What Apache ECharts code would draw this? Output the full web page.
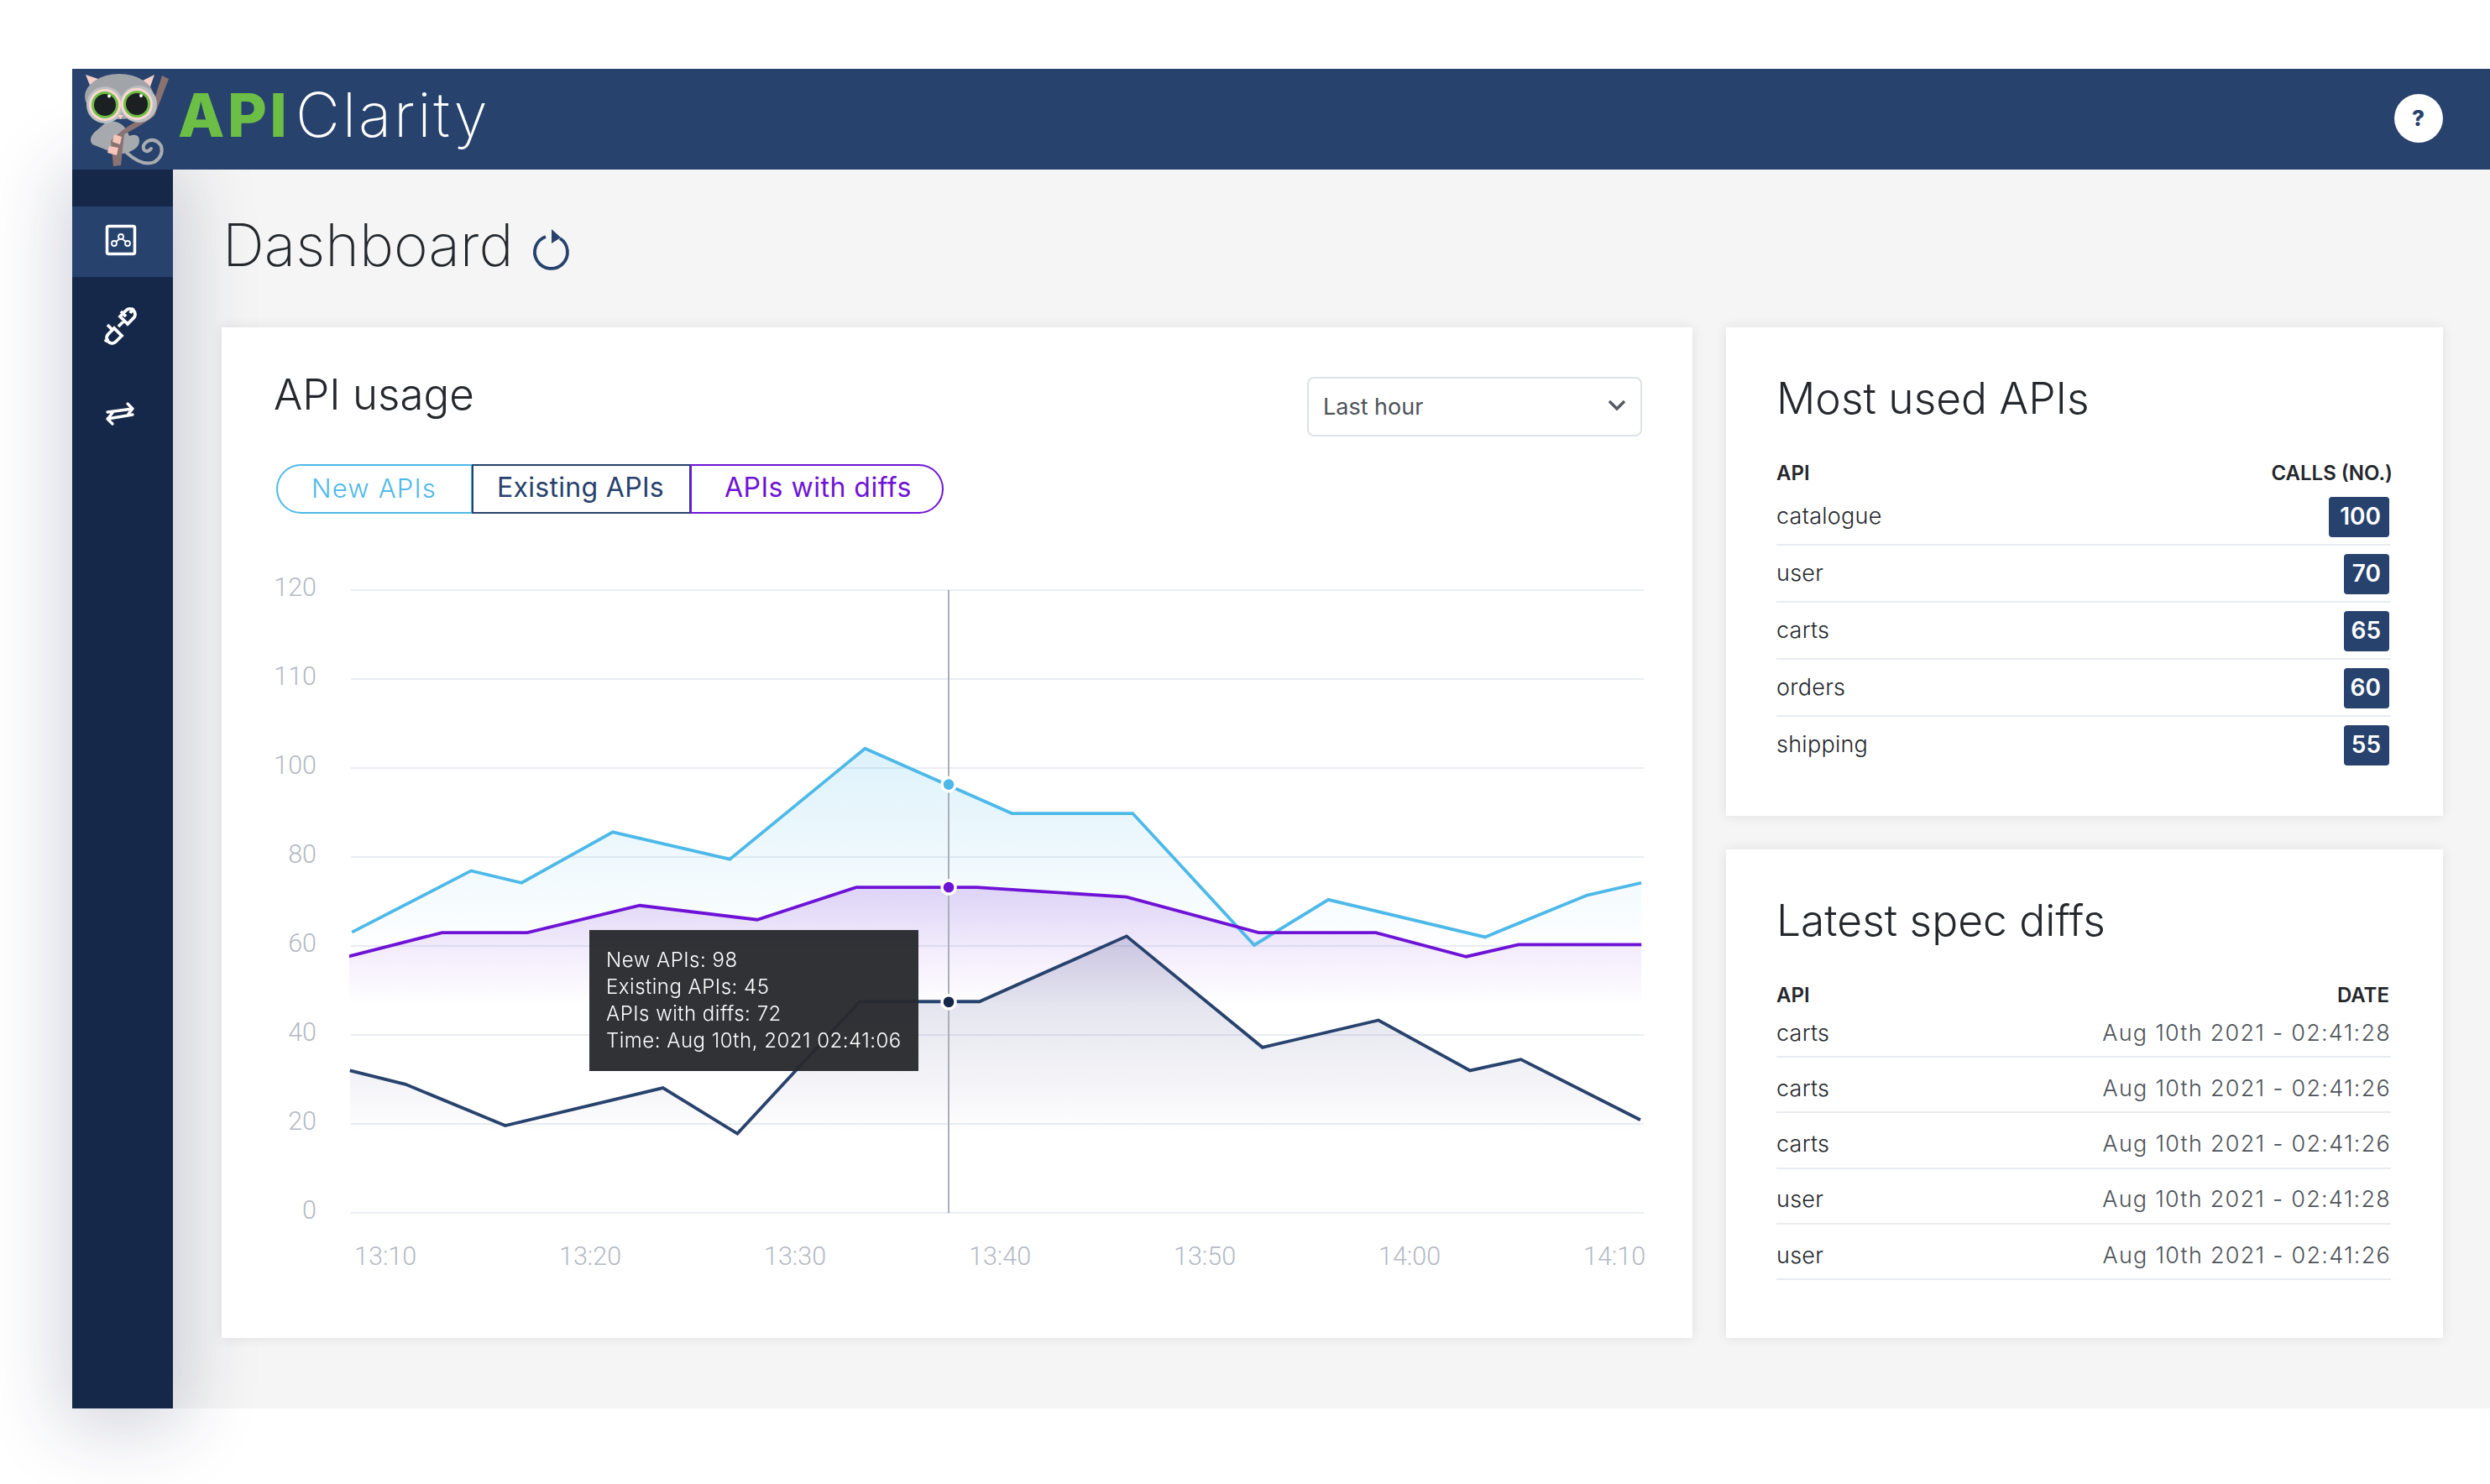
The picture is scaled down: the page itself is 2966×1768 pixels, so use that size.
<!DOCTYPE html>
<html><head><meta charset="utf-8"><title>APIClarity Dashboard</title>
<style>
html,body{margin:0;padding:0;background:#fff;width:2966px;height:1768px;overflow:hidden;font-family:Inter,"Noto Sans",sans-serif}
.box{position:absolute;box-sizing:border-box}
.t{position:absolute;white-space:nowrap;line-height:1}
#chart{position:absolute;left:264px;top:390px;width:1752px;height:1204px}
</style>
<script src="https://cdn.jsdelivr.net/npm/echarts@6/dist/echarts.min.js"></script>
</head><body>
<div class="box" style="left:86px;top:82px;width:2880px;height:1596px;background:#f5f5f5"></div>
<div class="box" style="left:86px;top:202px;width:120px;height:1476px;background:#152849;box-shadow:0 10px 90px 10px rgba(35,40,90,.22)"></div>
<div class="box" style="left:86px;top:246px;width:120px;height:84px;background:#27426d"></div>
<div class="box" style="left:86px;top:82px;width:2880px;height:120px;background:#27426d"></div>
<div class="box" style="left:264px;top:390px;width:1752px;height:1204px;background:#fff;box-shadow:0 0 14px rgba(0,0,0,.09)"></div>
<div class="box" style="left:2056px;top:390px;width:854px;height:582px;background:#fff;box-shadow:0 0 14px rgba(0,0,0,.09)"></div>
<div class="box" style="left:2056px;top:1012px;width:854px;height:582px;background:#fff;box-shadow:0 0 14px rgba(0,0,0,.09)"></div>

<!-- logo -->
<svg class="box" style="left:86px;top:80px" width="130" height="125" viewBox="0 0 130 125">
 <path d="M65 102Q84 119 98 113Q109 106 106 94Q100 84 90 88Q82 93 86 99Q90 102 94 97" fill="none" stroke="#a9acb0" stroke-width="4" stroke-linecap="round"/>
 <path d="M40 66Q60 60 68 82Q80 78 80 88Q80 97 65 102Q50 106 44 100L24 92Q19 86 26 78Z" fill="#a6a9ad"/>
 <path d="M107 10L115 14L98 58Q85 68 62 80L58 117L49 118L46 88Q62 70 92 57Z" fill="#8a7270"/>
 <path d="M50 80l9 3-2 9-9-3zM44 94l11 2-2 9-11-3z" fill="#f6c6bb"/>
 <path d="M16 9L31 14L22 24Z M98 9L84 16L92 26Z" fill="#f9cfca"/>
 <ellipse cx="56" cy="35" rx="41" ry="27" fill="#a1a4a8"/>
 <circle cx="39" cy="45" r="22" fill="#bdbfc2"/><circle cx="79" cy="44" r="22" fill="#bdbfc2"/>
 <circle cx="39" cy="45" r="19" fill="#fbd8cf"/><circle cx="77" cy="44" r="19" fill="#fbd8cf"/>
 <circle cx="39" cy="45" r="16" fill="#6cbe45"/><circle cx="77" cy="44" r="16" fill="#6cbe45"/>
 <circle cx="39" cy="45" r="13" fill="#1d2023"/><circle cx="77" cy="44" r="13" fill="#1d2023"/>
 <circle cx="44" cy="34.500" r="2" fill="#fff"/><circle cx="82" cy="34" r="2" fill="#fff"/>
 <path d="M54 57L61 57L57.500 62Z" fill="#f9cfca"/>
</svg>

<!-- side icons -->
<svg class="box" style="left:86px;top:246px" width="120" height="300" viewBox="0 0 120 300" fill="none" stroke="#fff">
 <rect x="41.500" y="23.500" width="33" height="33" rx="2" stroke-width="3.500"/>
 <g stroke-width="1.800"><circle cx="58" cy="36" r="3"/><circle cx="50" cy="44" r="3"/><circle cx="66" cy="44" r="3"/><path d="M56 39L52 42M60 39L64 42"/></g>
 <g stroke-width="3.800"><path d="M42 141l6 6M58 125l6 6M43 152l7-7 9 9-7 7a6 6 0 0 1-9 0a6 6 0 0 1 0-9zM57 131l7-7a6 6 0 0 1 9 0a6 6 0 0 1 0 9l-7 7zM55 143l6-6M39 161l4-4M69 127l4-6"/></g>
 <g stroke-width="3.300" stroke-linecap="round" stroke-linejoin="round"><path d="M42 245l30-4M66 235l6 6-5 6M72 248l-30 5M48 246l-6 7 6 6"/></g>
</svg>
<!-- refresh -->
<svg class="box" style="left:630px;top:266px" width="54" height="60" viewBox="0 0 54 60" fill="none">
 <path d="M20 16A19.500 19.500 0 1 0 37 18" stroke="#27426d" stroke-width="3.800"/>
 <path d="M27 7L38 17L27 24Z" fill="#27426d"/>
</svg>
<!-- help -->
<div class="box" style="left:2852px;top:112px;width:58px;height:58px;border-radius:50%;background:#fff"></div>
<!-- tabs -->
<div class="box" style="left:329px;top:553px;width:234px;height:59px;border:2px solid #4db9e8;border-radius:30px 0 0 30px;background:#fff"></div>
<div class="box" style="left:562px;top:553px;width:261px;height:59px;border:2px solid #27426d;background:#fff"></div>
<div class="box" style="left:822px;top:553px;width:302px;height:59px;border:2px solid #6e13d6;border-radius:0 30px 30px 0;background:#fff"></div>
<!-- select -->
<div class="box" style="left:1557px;top:449px;width:399px;height:71px;border:2px solid #dee2e6;border-radius:8px;background:#fff"></div>
<svg class="box" style="left:1914px;top:474px" width="24" height="18" viewBox="0 0 24 18"><path d="M3 4L12 13L21 4" fill="none" stroke="#555b63" stroke-width="3.500"/></svg>

<div id="shell"></div>
<div id="chart"></div>

<script>
// ---- chart data ----
const yTickLabels = [0, 20, 40, 60, 80, 100, 110, 120];
const xTickTimes = ['13:10:00','13:20:00','13:30:00','13:40:00','13:50:00','14:00:00','14:10:00'];
const newTimes = ['13:08:22','13:14:11','13:16:39','13:21:06','13:26:49','13:33:25','13:40:35','13:46:29','13:52:25','13:56:02','14:03:41','14:08:40','14:11:19'];
const newValues = [63.1,76.9,74.2,85.6,79.5,102.2,89.8,89.8,60.2,70.4,62,71.4,74.2];
const diffTimes = ['13:08:10','13:12:46','13:16:56','13:22:25','13:28:09','13:33:00','13:38:51','13:46:11','13:52:38','13:58:21','14:02:46','14:05:19','14:11:19'];
const diffValues = [57.6,63,63,69.1,65.9,73.2,73.2,71,63,63,57.6,60.3,60.3];
const existingTimes = ['13:08:16','13:10:59','13:15:51','13:23:33','13:27:11','13:33:09','13:39:00','13:46:11','13:52:49','13:58:29','14:02:57','14:05:26','14:11:16'];
const existingValues = [32,28.9,19.6,28.1,17.8,47.5,47.5,62.2,37.2,43.3,32,34.5,20.9];
const cursorTime = '13:37:30';
const cursorValues = [96.3,73.2,47.4];
const tooltipLines = ['New APIs: 98','Existing APIs: 45','APIs with diffs: 72','Time: Aug 10th, 2021 02:41:06'];
const axisStart = '13:08:19', axisEnd = '14:11:26';

// ---- tables ----
const usedApis = ['catalogue','user','carts','orders','shipping'];
const usedCalls = [100,70,65,60,55];
const diffApis = ['carts','carts','carts','user','user'];
const diffDates = ['Aug 10th 2021 - 02:41:28','Aug 10th 2021 - 02:41:26','Aug 10th 2021 - 02:41:26','Aug 10th 2021 - 02:41:28','Aug 10th 2021 - 02:41:26'];
const tabs = ['New APIs','Existing APIs','APIs with diffs'];

// ---- page shell ----
const shell = document.getElementById('shell');
function txt(s,x,base,size,o={}){
  const d=document.createElement('div');d.className='t';d.textContent=s;
  d.style.cssText+=`font-size:${size}px;top:${base-.8635*size}px;color:${o.color||'#24272c'};font-weight:${o.weight||400};`+
   (o.right?`right:${2966-x}px;`:`left:${x}px;`)+(o.ls?`letter-spacing:${o.ls}px;`:'')+(o.family?`font-family:${o.family};`:'');
  shell.appendChild(d);return d;
}
function box(x,y,w,h,c,r){const d=document.createElement('div');d.className='box';
  d.style.cssText+=`left:${x}px;top:${y}px;width:${w}px;height:${h}px;background:${c};border-radius:${r||0}px`;shell.appendChild(d);}

txt('API',212,163,72,{weight:800,color:'#6cbe45',ls:3.500});
txt('Clarity',352,163,73,{weight:200,color:'#fff',ls:2.800});
txt('?',2873,150,26,{weight:800,color:'#27426d'});
txt('Dashboard',265,318,69.5,{weight:200});
txt('API usage',326,488,51,{weight:300});
txt(tabs[0],371,593,31,{color:'#4db9e8',weight:300,ls:1.2});
txt(tabs[1],592,593,32,{color:'#27426d',ls:.3});
txt(tabs[2],863,593,32,{color:'#6e13d6',ls:.5});
txt('Last hour',1576,494,27,{color:'#4d5359'});

txt('Most used APIs',2116,493,51.500,{weight:300});
txt('API',2116,573,24,{weight:600});
txt('CALLS (NO.)',2850,573,24,{weight:600,right:true});
usedApis.forEach((a,i)=>{
  const cy=616+68*i, w=usedCalls[i]>=100?72:54;
  txt(a,2116,cy+8,27,{weight:300,ls:.25});
  box(2846-w,cy-24,w,48,'#27426d',4);
  txt(String(usedCalls[i]),2836,cy+9,28,{weight:600,color:'#fff',right:true});
  if(i<4) box(2116,cy+32,732,2,'#e8ecf0');
});

txt('Latest spec diffs',2116,1115,51.500,{weight:300});
txt('API',2116,1195,24,{weight:600});
txt('DATE',2846,1195,24,{weight:600,right:true});
diffApis.forEach((a,i)=>{
  const b=1240+66.25*i;
  txt(a,2116,b,27,{weight:300,ls:.25});
  txt(diffDates[i],2848,b,27,{weight:300,color:'#4d5359',right:true,ls:1.25});
  box(2116,b+18,732,2,'#e8ecf0');
});

// ---- chart ----
const ts = t => new Date('2021-08-10T'+t).getTime();
// the reference's y axis spaces its uneven tick labels evenly, so values pass through that scale
function toAxis(v){
  for(let i=0;i<yTickLabels.length-1;i++){
    if(v<=yTickLabels[i+1]) return i+(v-yTickLabels[i])/(yTickLabels[i+1]-yTickLabels[i]);
  }
  return yTickLabels.length-1;
}
const pairs=(times,vals)=>times.map((t,i)=>[ts(t),toAxis(vals[i])]);
const grad=(rgb,top,end)=>({type:'linear',x:0,y:0,x2:0,y2:1,colorStops:[
  {offset:0,color:`rgba(${rgb},${top})`},{offset:end,color:`rgba(${rgb},.01)`},{offset:Math.min(end+.001,1),color:`rgba(${rgb},0)`},{offset:1,color:`rgba(${rgb},0)`}]});
const mk=(name,data,color,rgb,top,end)=>({name,type:'line',data,symbol:'none',clip:false,silent:true,
  lineStyle:{color,width:3.800,join:'miter'},itemStyle:{color},areaStyle:{color:grad(rgb,top,end),origin:'start'}});
const dotColors=['#4db9e8','#6e13d6','#152849'];
const chart=echarts.init(document.getElementById('chart'),null,{renderer:'svg'});
const tickFont={color:'#b3b9c4',fontSize:30.500,fontFamily:'Roboto',fontWeight:300};
chart.setOption({
  animation:false,
  grid:{left:154,right:58,top:313,bottom:149},
  xAxis:{type:'value',min:ts(axisStart),max:ts(axisEnd),
    axisLine:{show:false},axisTick:{show:false},splitLine:{show:false},
    axisLabel:{...tickFont,margin:36,
      customValues:xTickTimes.map(ts),
      formatter:v=>{const d=new Date(v);return String(d.getHours()).padStart(2,'0')+':'+String(d.getMinutes()).padStart(2,'0');}}},
  yAxis:{type:'value',min:0,max:yTickLabels.length-1,interval:1,
    axisLine:{show:false},axisTick:{show:false},
    splitLine:{lineStyle:{color:'#e9edf2',width:2}},
    axisLabel:{...tickFont,margin:41,verticalAlign:'bottom',lineHeight:8,formatter:v=>String(yTickLabels[v])}},
  tooltip:{trigger:'item',alwaysShowContent:true,showContent:true,transitionDuration:0,position:[438,718],
    backgroundColor:'rgba(40,42,46,.96)',borderWidth:0,padding:[20,20,20,20],
    textStyle:{color:'#fff',fontSize:24,fontFamily:'Inter',fontWeight:300,lineHeight:32},
    extraCssText:'box-shadow:none;border-radius:0;width:392px;box-sizing:border-box;line-height:32px;letter-spacing:.5px;',
    formatter:()=>tooltipLines.join('<br>')},
  series:[
    mk('New APIs',pairs(newTimes,newValues),'#4db9e8','77,185,232',.27,.43),
    mk('APIs with diffs',pairs(diffTimes,diffValues),'#6e13d6','110,19,214',.24,.35),
    mk('Existing APIs',pairs(existingTimes,existingValues),'#27426d','40,45,120',.27,.7),
    {name:'cursor',type:'scatter',z:5,symbolSize:16,
     data:cursorValues.map((v,i)=>({value:[ts(cursorTime),toAxis(v)],itemStyle:{color:dotColors[i],borderColor:'#fff',borderWidth:3.500,opacity:1}})),
     emphasis:{disabled:true},
     markLine:{silent:true,symbol:'none',label:{show:false},z:4,lineStyle:{color:'#a9afba',width:2,type:'solid'},
       data:[[{coord:[ts(cursorTime),0]},{coord:[ts(cursorTime),yTickLabels.length-1]}]]}}
  ]
});
chart.dispatchAction({type:'showTip',seriesIndex:3,dataIndex:2});
</script>
</body></html>
